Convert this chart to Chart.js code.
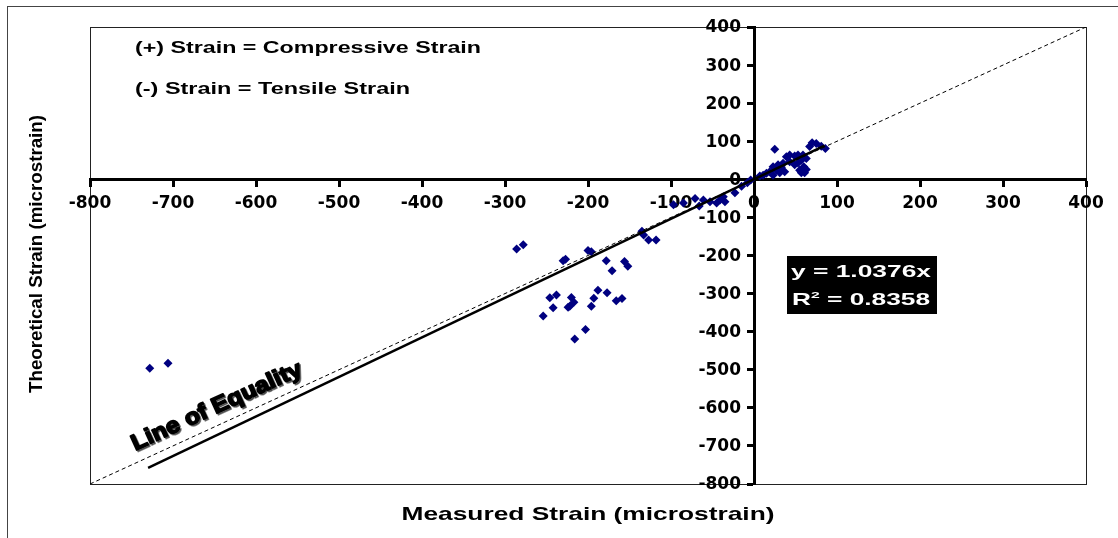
<!DOCTYPE html>
<html>
<head>
<meta charset="utf-8">
<script src="https://cdn.jsdelivr.net/npm/chart.js@4.4.1/dist/chart.umd.min.js"></script>
<style>
  html, body { margin: 0; padding: 0; background: #fff; }
  #wrap { width: 1118px; height: 538px; }
</style>
</head>
<body>
<div id="wrap"><canvas id="strainChart" width="1118" height="538"></canvas></div>
<script>
// measured vs theoretical strain (microstrain)
const measured = [
  -728, -706,
  -286, -278, -230, -227, -200, -196, -178, -171, -156, -152,
  -135, -133, -127, -118,
  -246, -238, -242, -254, -220, -217, -222, -224,
  -193, -196, -188, -177, -166, -159, -203, -216,
  -97, -85, -71, -66, -61, -53, -45, -41, -35, -37, -23, -15, -8, -4,
  7, 11, 15, 19, 23, 23, 27, 29, 31, 33, 37, 35, 25, 39, 43, 43, 49, 49,
  53, 53, 55, 57, 59, 61, 63, 60, 67, 70, 75, 81, 86, 63, 57
];
const theoretical = [
  -496, -483,
  -183, -172, -214, -210, -187, -190, -214, -240, -216, -228,
  -136, -146, -159, -159,
  -311, -304, -337, -359, -310, -323, -333, -336,
  -312, -333, -291, -298, -319, -313, -394, -419,
  -67, -62, -50, -70, -54, -59, -62, -54, -59, -46, -35, -18, -9, -2,
  9, 11, 16, 20, 11, 33, 24, 38, 17, 32, 20, 42, 79, 59, 64, 46, 61, 38,
  64, 43, 24, 17, 64, 17, 26, 33, 86, 96, 94, 87, 81, 55, 50
];
const xTicks = [-800, -700, -600, -500, -400, -300, -200, -100, 0, 100, 200, 300, 400];
const yTicks = [-800, -700, -600, -500, -400, -300, -200, -100, 0, 100, 200, 300, 400];
const equalityX = [-800, 400];
const trendX = [-730, 85];
const trendSlope = 1.0376;
const rSquared = 0.8358;

const points = measured.map((x, i) => ({ x: x, y: theoretical[i] }));
const equalityLine = equalityX.map(v => ({ x: v, y: v }));
const trendLine = trendX.map(v => ({ x: v, y: v * trendSlope }));

const FONT = '"Liberation Sans", Arial, sans-serif';
const tickFont = { family: 'DejaVu Sans', weight: 'bold', size: 17 };

// bold text squeezed/stretched to a given cap height and width, like the old excel export
function stretchText(ctx, text, x, y, capH, width, align, outline) {
  const size = capH / 0.716;
  ctx.font = 'bold ' + size + 'px ' + FONT;
  const sx = width / ctx.measureText(text).width;
  ctx.save();
  ctx.translate(x, y);
  ctx.scale(sx, 1);
  ctx.textAlign = align || 'left';
  ctx.textBaseline = 'alphabetic';
  if (outline) {
    ctx.lineWidth = outline;
    ctx.lineJoin = 'round';
    ctx.strokeStyle = ctx.fillStyle;
    ctx.strokeText(text, 0, 0);
  }
  ctx.fillText(text, 0, 0);
  ctx.restore();
}

const framePlugin = {
  id: 'frame',
  beforeDraw(chart) {
    const { ctx, chartArea } = chart;
    ctx.save();
    ctx.strokeStyle = '#444';
    ctx.lineWidth = 1;
    ctx.strokeRect(7.5, 6.5, 1300, 700);
    ctx.strokeStyle = '#222';
    ctx.strokeRect(chartArea.left + 0.5, chartArea.top + 0.5,
      chartArea.right - chartArea.left, chartArea.bottom - chartArea.top);
    ctx.restore();
  },
  afterDraw(chart) {
    const ctx = chart.ctx;
    const xs = chart.scales.x, ys = chart.scales.y;
    ctx.save();

    // y tick labels sit left of the centred axis
    ctx.fillStyle = '#000';
    ctx.font = 'bold 17px "DejaVu Sans"';
    ctx.textAlign = 'right';
    ctx.textBaseline = 'middle';
    const axisX = xs.getPixelForValue(0);
    yTicks.forEach(v => ctx.fillText(String(v), axisX - 13, ys.getPixelForValue(v) + 1));

    stretchText(ctx, '(+) Strain = Compressive Strain', 135, 53, 11.7, 346);
    stretchText(ctx, '(-) Strain = Tensile Strain', 135, 94, 11.7, 275);
    stretchText(ctx, 'Measured Strain (microstrain)', 588, 520, 13.3, 373, 'center');

    ctx.save();
    ctx.translate(42, 254);
    ctx.rotate(-Math.PI / 2);
    stretchText(ctx, 'Theoretical Strain (microstrain)', 0, 0, 12.5, 278, 'center');
    ctx.restore();

    // equation box
    ctx.fillStyle = '#000';
    ctx.fillRect(787, 256, 150, 58);
    ctx.fillStyle = '#fff';
    stretchText(ctx, 'y = ' + trendSlope + 'x', 791, 277, 11.5, 140);
    const size = 11.5 / 0.716;
    const big = 'bold ' + size + 'px ' + FONT;
    const small = 'bold ' + (size * 0.6) + 'px ' + FONT;
    const rest = ' = ' + rSquared;
    ctx.font = big;
    const wR = ctx.measureText('R').width;
    const wRest = ctx.measureText(rest).width;
    ctx.font = small;
    const w2 = ctx.measureText('2').width;
    const sx = 138 / (wR + w2 + wRest);
    ctx.save();
    ctx.translate(792, 305);
    ctx.scale(sx, 1);
    ctx.textAlign = 'left';
    ctx.textBaseline = 'alphabetic';
    ctx.font = big;
    ctx.fillText('R', 0, 0);
    ctx.font = small;
    ctx.fillText('2', wR, -7);
    ctx.font = big;
    ctx.fillText(rest, wR + w2, 0);
    ctx.restore();

    // rotated label along the equality line
    ctx.save();
    ctx.translate(216, 405);
    ctx.rotate(-24.5 * Math.PI / 180);
    ctx.shadowColor = 'rgba(0,0,0,0.5)';
    ctx.shadowOffsetX = 1.5;
    ctx.shadowOffsetY = 1.5;
    ctx.fillStyle = '#000';
    stretchText(ctx, 'Line of Equality', 0, 8, 16, 185, 'center', 1.6);
    ctx.restore();
    ctx.restore();
  }
};

new Chart(document.getElementById('strainChart').getContext('2d'), {
  type: 'scatter',
  data: {
    datasets: [
      {
        type: 'line',
        label: 'Trend',
        data: trendLine,
        borderColor: '#000',
        borderWidth: 2.5,
        pointRadius: 0,
        fill: false,
        order: 0
      },
      {
        type: 'line',
        label: 'Line of Equality',
        data: equalityLine,
        borderColor: '#000',
        borderWidth: 1,
        borderDash: [4, 3],
        pointRadius: 0,
        fill: false,
        order: 1
      },
      {
        label: 'Strain',
        data: points,
        backgroundColor: '#000080',
        borderColor: '#000080',
        borderWidth: 0,
        pointStyle: 'rectRot',
        pointRadius: 4.5,
        order: 2
      }
    ]
  },
  options: {
    responsive: false,
    animation: false,
    layout: { padding: { left: 90, top: 27, right: 32, bottom: 54 } },
    plugins: {
      legend: { display: false },
      tooltip: { enabled: false }
    },
    scales: {
      x: {
        type: 'linear',
        min: -800,
        max: 400,
        position: { y: 0 },
        afterBuildTicks: (scale) => { scale.ticks = xTicks.map(v => ({ value: v })); },
        grid: { drawOnChartArea: false, drawTicks: true, tickLength: 6, tickWidth: 3, tickColor: '#000' },
        border: { display: true, width: 3, color: '#000' },
        ticks: { font: tickFont, color: '#000', padding: 8, maxRotation: 0, autoSkip: false }
      },
      y: {
        type: 'linear',
        min: -800,
        max: 400,
        position: { x: 0 },
        afterBuildTicks: (scale) => { scale.ticks = yTicks.map(v => ({ value: v })); },
        grid: { drawOnChartArea: false, drawTicks: true, tickLength: 6, tickWidth: 3, tickColor: '#000' },
        border: { display: true, width: 3, color: '#000' },
        ticks: { font: tickFont, color: 'rgba(0,0,0,0)', autoSkip: false }
      }
    }
  },
  plugins: [framePlugin]
});
</script>
</body>
</html>
